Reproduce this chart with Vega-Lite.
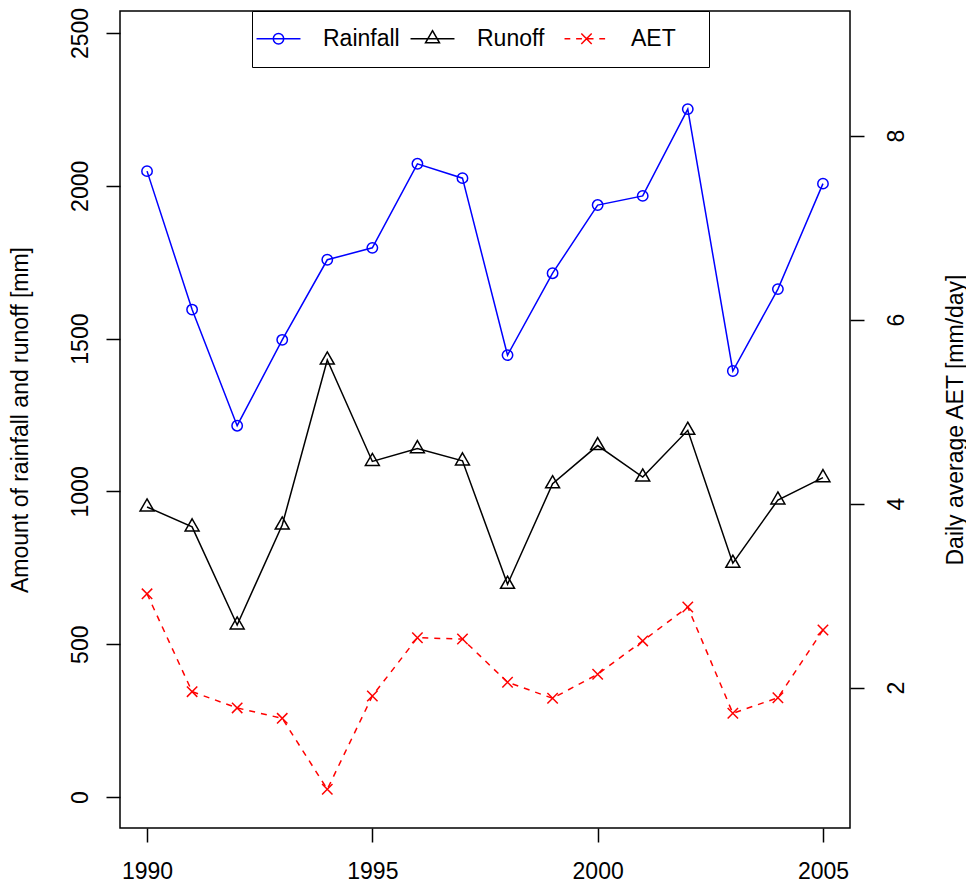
{
  "$schema": "https://vega.github.io/schema/vega-lite/v6.json",
  "width": 730,
  "height": 817,
  "autosize": {"type": "none"},
  "padding": {"left": 120, "top": 11, "right": 116, "bottom": 59},
  "background": "white",
  "config": {
    "view": {"stroke": "black", "strokeWidth": 1.5},
    "font": "Liberation Sans",
    "axis": {
      "domain": false, "grid": false, "ticks": true,
      "tickColor": "black", "tickWidth": 1.5, "tickSize": 14,
      "labelFont": "Liberation Sans", "labelFontSize": 23, "labelColor": "black",
      "titleFont": "Liberation Sans", "titleFontSize": 23, "titleFontWeight": "normal", "titleColor": "black"
    }
  },
  "datasets": {
    "d": [
      {"year": 1990, "series": "Rainfall", "value": 2048},
      {"year": 1991, "series": "Rainfall", "value": 1595},
      {"year": 1992, "series": "Rainfall", "value": 1215},
      {"year": 1993, "series": "Rainfall", "value": 1496},
      {"year": 1994, "series": "Rainfall", "value": 1758},
      {"year": 1995, "series": "Rainfall", "value": 1797},
      {"year": 1996, "series": "Rainfall", "value": 2072},
      {"year": 1997, "series": "Rainfall", "value": 2025},
      {"year": 1998, "series": "Rainfall", "value": 1446},
      {"year": 1999, "series": "Rainfall", "value": 1714},
      {"year": 2000, "series": "Rainfall", "value": 1937},
      {"year": 2001, "series": "Rainfall", "value": 1967},
      {"year": 2002, "series": "Rainfall", "value": 2251},
      {"year": 2003, "series": "Rainfall", "value": 1394},
      {"year": 2004, "series": "Rainfall", "value": 1662},
      {"year": 2005, "series": "Rainfall", "value": 2007},
      {"year": 1990, "series": "Runoff", "value": 949},
      {"year": 1991, "series": "Runoff", "value": 884},
      {"year": 1992, "series": "Runoff", "value": 563},
      {"year": 1993, "series": "Runoff", "value": 890},
      {"year": 1994, "series": "Runoff", "value": 1430},
      {"year": 1995, "series": "Runoff", "value": 1098},
      {"year": 1996, "series": "Runoff", "value": 1140},
      {"year": 1997, "series": "Runoff", "value": 1100},
      {"year": 1998, "series": "Runoff", "value": 696},
      {"year": 1999, "series": "Runoff", "value": 1025},
      {"year": 2000, "series": "Runoff", "value": 1150},
      {"year": 2001, "series": "Runoff", "value": 1047},
      {"year": 2002, "series": "Runoff", "value": 1200},
      {"year": 2003, "series": "Runoff", "value": 765},
      {"year": 2004, "series": "Runoff", "value": 972},
      {"year": 2005, "series": "Runoff", "value": 1045},
      {"year": 1990, "series": "AET", "value": 3.02},
      {"year": 1991, "series": "AET", "value": 1.957},
      {"year": 1992, "series": "AET", "value": 1.78},
      {"year": 1993, "series": "AET", "value": 1.667},
      {"year": 1994, "series": "AET", "value": 0.896},
      {"year": 1995, "series": "AET", "value": 1.91},
      {"year": 1996, "series": "AET", "value": 2.543},
      {"year": 1997, "series": "AET", "value": 2.529},
      {"year": 1998, "series": "AET", "value": 2.059},
      {"year": 1999, "series": "AET", "value": 1.885},
      {"year": 2000, "series": "AET", "value": 2.146},
      {"year": 2001, "series": "AET", "value": 2.508},
      {"year": 2002, "series": "AET", "value": 2.877},
      {"year": 2003, "series": "AET", "value": 1.722},
      {"year": 2004, "series": "AET", "value": 1.891},
      {"year": 2005, "series": "AET", "value": 2.627}
    ]
  },
  "data": {"name": "d"},
  "encoding": {
    "x": {
      "field": "year", "type": "quantitative",
      "scale": {"domain": [1989.4, 2005.6], "nice": false, "zero": false},
      "axis": {"values": [1990, 1995, 2000, 2005], "format": "d", "title": null, "labelPadding": 18, "labelBaseline": "top", "labelAlign": "center"}
    }
  },
  "layer": [
    {
      "encoding": {
        "y": {
          "field": "value", "type": "quantitative",
          "scale": {"domain": [-101.4, 2572], "nice": false, "zero": false},
          "axis": {
            "orient": "left", "values": [0, 500, 1000, 1500, 2000, 2500], "format": "d",
            "title": "Amount of rainfall and runoff [mm]",
            "labelAngle": 270, "labelAlign": "center", "labelBaseline": "alphabetic", "labelPadding": 19,
            "titlePadding": 37
          }
        }
      },
      "layer": [
        {
          "transform": [{"filter": "datum.series == 'Rainfall'"}],
          "mark": {"type": "line", "color": "#0000FF", "strokeWidth": 1.5}
        },
        {
          "transform": [{"filter": "datum.series == 'Rainfall'"}],
          "mark": {"type": "point", "shape": "circle", "filled": false, "stroke": "#0000FF", "strokeWidth": 1.5, "size": 108, "opacity": 1}
        },
        {
          "transform": [{"filter": "datum.series == 'Runoff'"}],
          "mark": {"type": "line", "color": "black", "strokeWidth": 1.5}
        },
        {
          "transform": [{"filter": "datum.series == 'Runoff'"}],
          "mark": {"type": "point", "shape": "M0,-1L0.866,0.5L-0.866,0.5Z", "filled": false, "stroke": "black", "strokeWidth": 1.5, "size": 260, "opacity": 1}
        },
        {
          "transform": [{"filter": "false"}],
          "mark": {"type": "point", "filled": false, "strokeWidth": 1.5, "opacity": 1},
          "encoding": {
            "y": {"field": "value", "type": "quantitative"},
            "color": {
              "field": "series", "type": "nominal",
              "scale": {"domain": ["Rainfall", "Runoff", "AET"], "range": ["#0000FF", "black", "#FF0000"]},
              "legend": {
                "orient": "none", "legendX": 132, "legendY": 0,
                "direction": "horizontal", "title": null, "gridAlign": "all",
                "strokeColor": "black", "fillColor": "white",
                "padding": 16, "symbolSize": 108, "symbolStrokeWidth": 1.5, "symbolOffset": -1,
                "labelFont": "Liberation Sans", "labelFontSize": 23, "labelColor": "black",
                "labelOffset": 33, "columnPadding": 7, "labelLimit": 300,
                "labelExpr": "datum.label == 'AET' ? 'AET\u2800' : datum.label"
              }
            },
            "shape": {
              "field": "series", "type": "nominal",
              "scale": {
                "domain": ["Rainfall", "Runoff", "AET"],
                "range": [
                  "M-4.23,0L4.23,0M1,0A1,1,0,1,1,-1,0A1,1,0,1,1,1,0",
                  "M-4.23,0L4.23,0M0,-1.55L1.343,0.775L-1.343,0.775Z",
                  "M-4.23,0L-3.12,0M-2,0L-0.88,0M0.23,0L1.35,0M2.46,0L3.58,0M-1,-1L1,1M-1,1L1,-1"
                ]
              }
            }
          }
        }
      ]
    },
    {
      "transform": [{"filter": "datum.series == 'AET'"}],
      "encoding": {
        "y": {
          "field": "value", "type": "quantitative",
          "scale": {"domain": [0.475, 9.355], "nice": false, "zero": false},
          "axis": {
            "orient": "right", "values": [2, 4, 6, 8], "format": "d",
            "title": "Daily average AET [mm/day]",
            "labelAngle": 270, "labelAlign": "center", "labelBaseline": "top", "labelPadding": 21,
            "titleAngle": 270, "titleBaseline": "top", "titlePadding": 36
          }
        }
      },
      "layer": [
        {
          "mark": {"type": "line", "color": "#FF0000", "strokeWidth": 1.5, "strokeDash": [6, 6]}
        },
        {
          "mark": {"type": "point", "shape": "M-1,-1L1,1M-1,1L1,-1", "filled": false, "stroke": "#FF0000", "strokeWidth": 1.5, "size": 108, "opacity": 1}
        }
      ]
    }
  ],
  "resolve": {"scale": {"y": "independent"}}
}
